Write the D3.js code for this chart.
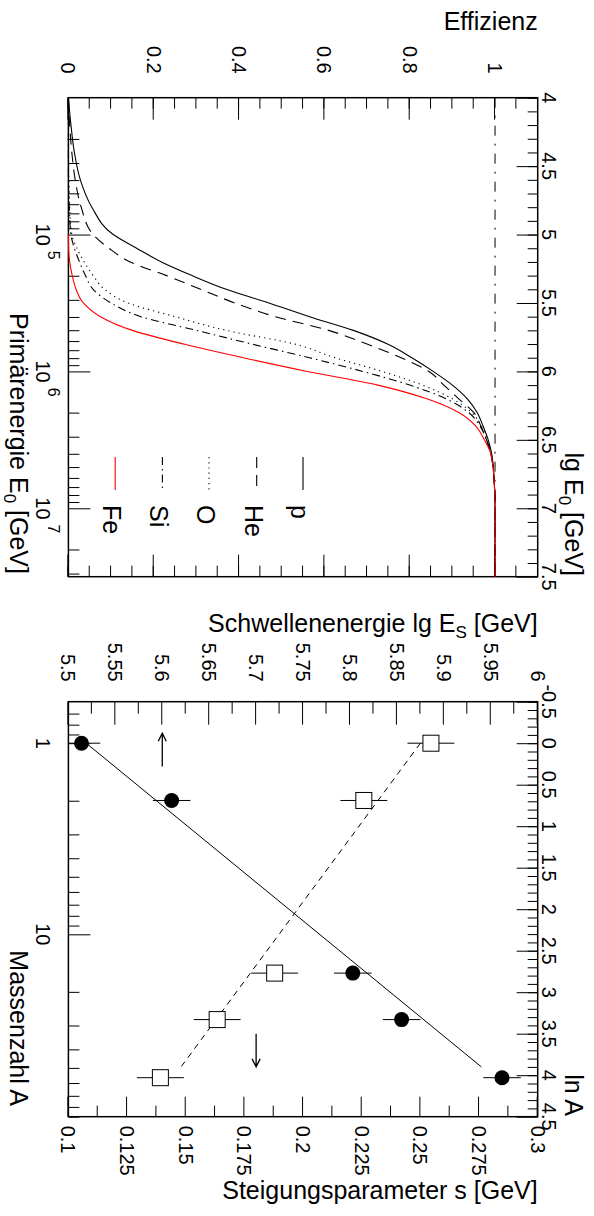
<!DOCTYPE html>
<meta charset="utf-8">
<title>Effizienz / Schwellenenergie</title>
<script src="https://d3js.org/d3.v7.min.js"></script>
<style>
  body { margin: 0; background: #fff; }
  svg text { font-family: "Liberation Sans", Arial, Helvetica, sans-serif; fill: #000; }
</style>
<body>
<div id="chart"></div>
<script>
// ---- data, upper panel: efficiency vs. primary energy ----
var lgE   = [4.0, 4.2, 4.4, 4.6, 4.8, 5.0, 5.1, 5.2, 5.3, 5.4, 5.5, 5.6, 5.7, 5.8, 5.9, 6.0, 6.1, 6.2, 6.3, 6.4, 6.5, 6.6, 6.8, 7.0, 7.5];
var effP  = [0, 0.006, 0.014, 0.028, 0.055, 0.105, 0.16, 0.218, 0.29, 0.37, 0.47, 0.565, 0.668, 0.748, 0.805, 0.855, 0.9, 0.935, 0.958, 0.972, 0.984, 0.992, 0.998, 1, 1];
var effHe = [0, 0.003, 0.008, 0.016, 0.03, 0.058, 0.095, 0.145, 0.23, 0.31, 0.39, 0.485, 0.61, 0.70, 0.78, 0.845, 0.88, 0.915, 0.95, 0.967, 0.98, 0.99, 0.998, 1, 1];
var effO  = [0, 0, 0, 0.001, 0.003, 0.008, 0.02, 0.037, 0.058, 0.085, 0.14, 0.25, 0.37, 0.53, 0.625, 0.735, 0.83, 0.9, 0.945, 0.968, 0.982, 0.991, 0.998, 1, 1];
var effSi = [0, 0, 0, 0, 0.002, 0.006, 0.014, 0.026, 0.04, 0.058, 0.1, 0.17, 0.30, 0.43, 0.565, 0.69, 0.80, 0.885, 0.938, 0.965, 0.98, 0.99, 0.998, 1, 1];
var effFe = [null, null, null, null, null, 0, 0.0005, 0.003, 0.009, 0.018, 0.035, 0.075, 0.15, 0.27, 0.41, 0.56, 0.725, 0.84, 0.915, 0.955, 0.975, 0.99, 0.998, 1, 1];
var elements = ["p", "He", "O", "Si", "Fe"];

// ---- data, lower panel: threshold energy and slope vs. ln A ----
var lnA      = [0, 0.69, 2.77, 3.33, 4.03];
var lgEs     = [5.514, 5.61, 5.803, 5.855, 5.962];
var lgEsErr  = [0.02, 0.02, 0.02, 0.02, 0.02];
var slopeS   = [0.2545, 0.2259, 0.1879, 0.1634, 0.1392];
var slopeErr = [0.01, 0.01, 0.01, 0.01, 0.01];
var fitLnA   = [0, 3.9];
var fitEs    = [5.519, 5.94];
var fitS     = [0.25, 0.148];
var arrowEs  = {value: 5.6, lnA: [0.28, -0.12]};
var arrowS   = {value: 0.18, lnA: [3.5, 3.9]};

// ---- tick labels ----
var effLabels = [0, 0.2, 0.4, 0.6, 0.8, 1];
var lgELabels = [4, 4.5, 5, 5.5, 6, 6.5, 7, 7.5];
var e0Labels  = [5, 6, 7];
var lnALabels = [-0.5, 0, 0.5, 1, 1.5, 2, 2.5, 3, 3.5, 4, 4.5];
var aLabels   = [1, 10];
var esLabels  = [5.5, 5.55, 5.6, 5.65, 5.7, 5.75, 5.8, 5.85, 5.9, 5.95, 6];
var sLabels   = [0.1, 0.125, 0.15, 0.175, 0.2, 0.225, 0.25, 0.275, 0.3];

var W = 594, H = 1216;
var fsLab = 20, fsTit = 25;

var svg = d3.select("#chart").append("svg")
    .attr("width", W).attr("height", H);

// the figure is laid out in landscape and turned by 90 degrees
var g = svg.append("g")
    .attr("transform", "translate(" + W + ",0) rotate(90)");

var plotTop = 56.3, plotBottom = 525.6;
var p1 = [97.7, 576.7], p2 = [701.7, 1116.7];

var x1 = d3.scaleLinear().domain([4, 7.5]).range(p1);
var xE = d3.scaleLog().domain([1e4, Math.pow(10, 7.5)]).range(p1);
var y1 = d3.scaleLinear().domain([0, 1.1]).range([plotBottom, plotTop]);

var x2 = d3.scaleLinear().domain([-0.5, 4.5]).range(p2);
var xA = d3.scaleLog().domain([Math.exp(-0.5), Math.exp(4.5)]).range(p2);
var yE = d3.scaleLinear().domain([5.5, 6]).range([plotBottom, plotTop]);
var yS = d3.scaleLinear().domain([0.1, 0.3]).range([plotBottom, plotTop]);

function fmt(v) { return String(Math.round(v * 10000) / 10000); }

function ticks(axis, pos, scale, values, len) {
  var a = axis(scale).tickValues(values).tickSize(-len).tickFormat("");
  var tg = g.append("g");
  if (axis === d3.axisBottom || axis === d3.axisTop) tg.attr("transform", "translate(0," + pos + ")");
  else tg.attr("transform", "translate(" + pos + ",0)");
  tg.call(a);
  tg.select(".domain").remove();
  tg.selectAll("line").attr("stroke", "#000").attr("stroke-width", 1);
}

function logMinor(lo, hi) {
  var out = [];
  for (var k = -1; k <= 8; k++)
    for (var m = 2; m <= 9; m++) {
      var v = m * Math.pow(10, k);
      if (v > lo && v < hi) out.push(v);
    }
  return out;
}

// ================= upper panel =================
ticks(d3.axisTop, plotTop, x1, d3.range(4, 7.51, 0.5), 21);
ticks(d3.axisTop, plotTop, x1, d3.range(4, 7.5, 0.1), 10);
ticks(d3.axisBottom, plotBottom, xE, [1e5, 1e6, 1e7], 22);
ticks(d3.axisBottom, plotBottom, xE, logMinor(1e4, Math.pow(10, 7.5)), 11);
ticks(d3.axisLeft, p1[0], y1, effLabels, 22);
ticks(d3.axisLeft, p1[0], y1, d3.range(0, 1.07, 0.05), 11);
ticks(d3.axisRight, p1[1], y1, effLabels, 22);
ticks(d3.axisRight, p1[1], y1, d3.range(0, 1.07, 0.05), 11);

g.append("rect")
    .attr("x", p1[0]).attr("y", plotTop)
    .attr("width", p1[1] - p1[0]).attr("height", plotBottom - plotTop)
    .attr("fill", "none").attr("stroke", "#000").attr("stroke-width", 1.5);

// efficiency = 1 reference
g.append("line")
    .attr("x1", x1(4)).attr("x2", x1(7.5))
    .attr("y1", y1(1)).attr("y2", y1(1))
    .attr("stroke", "#000").attr("stroke-width", 1)
    .attr("stroke-dasharray", "10,8,2,8");

var styles = {
  p:  {color: "#000", dash: null},
  He: {color: "#000", dash: "11,7"},
  O:  {color: "#000", dash: "1.2,4"},
  Si: {color: "#000", dash: "8,4,1.5,4"},
  Fe: {color: "#ff0000", dash: null}
};
var effSeries = {p: effP, He: effHe, O: effO, Si: effSi, Fe: effFe};

var line1 = d3.line()
    .defined(function(d) { return d[1] != null; })
    .x(function(d) { return x1(d[0]); })
    .y(function(d) { return y1(d[1]); })
    .curve(d3.curveMonotoneX);

elements.forEach(function(el) {
  var pts = lgE.map(function(e, i) { return [e, effSeries[el][i]]; });
  g.append("path")
      .attr("d", line1(pts))
      .attr("fill", "none")
      .attr("stroke", styles[el].color)
      .attr("stroke-width", 1.1)
      .attr("stroke-dasharray", styles[el].dash);
});

// legend
var legY = [291, 337.3, 385, 431.6, 478.8];
elements.forEach(function(el, i) {
  g.append("line")
      .attr("x1", 457).attr("x2", 490)
      .attr("y1", legY[i]).attr("y2", legY[i])
      .attr("stroke", styles[el].color).attr("stroke-width", 1.1)
      .attr("stroke-dasharray", styles[el].dash);
  g.append("text")
      .attr("x", 505).attr("y", legY[i] + 12)
      .attr("font-size", fsTit)
      .text(el);
});

// labels
g.selectAll(null).data(lgELabels).join("text")
    .attr("x", function(d) { return x1(d); }).attr("y", 52)
    .attr("text-anchor", "middle").attr("font-size", fsLab)
    .text(fmt);

g.selectAll(null).data(effLabels).join("text")
    .attr("x", p1[0] - 24).attr("y", function(d) { return y1(d) + 7; })
    .attr("text-anchor", "end").attr("font-size", fsLab)
    .text(fmt);

var e0 = g.selectAll(null).data(e0Labels).join("text")
    .attr("x", function(d) { return xE(Math.pow(10, d)) - 11; })
    .attr("y", 558).attr("font-size", fsLab);
e0.append("tspan").text("10");
e0.append("tspan").attr("dx", 5).attr("dy", -12).attr("font-size", 16)
    .text(function(d) { return d; });

var t = g.append("text").attr("x", 576).attr("y", 29)
    .attr("text-anchor", "end").attr("font-size", fsTit);
t.append("tspan").text("lg E");
t.append("tspan").attr("dy", 6).attr("font-size", 17).text("0");
t.append("tspan").attr("dy", -6).text(" [GeV]");

t = g.append("text").attr("x", 574).attr("y", 584)
    .attr("text-anchor", "end").attr("font-size", fsTit);
t.append("tspan").text("Primärenergie E");
t.append("tspan").attr("dy", 6).attr("font-size", 17).text("0");
t.append("tspan").attr("dy", -6).text(" [GeV]");

g.append("text")
    .attr("transform", "translate(30," + plotTop + ") rotate(-90)")
    .attr("text-anchor", "end").attr("font-size", fsTit)
    .text("Effizienz");

// ================= lower panel =================
ticks(d3.axisTop, plotTop, x2, d3.range(-0.5, 4.51, 0.5), 21);
ticks(d3.axisTop, plotTop, x2, d3.range(-0.5, 4.5, 0.1), 10);
ticks(d3.axisBottom, plotBottom, xA, aLabels, 22);
ticks(d3.axisBottom, plotBottom, xA, logMinor(Math.exp(-0.5), Math.exp(4.5)), 11);
ticks(d3.axisLeft, p2[0], yE, esLabels, 23);
ticks(d3.axisLeft, p2[0], yE, d3.range(5.525, 6, 0.05), 12);
ticks(d3.axisRight, p2[1], yS, sLabels, 20);
ticks(d3.axisRight, p2[1], yS, d3.range(0.1125, 0.3, 0.025), 11);

g.append("rect")
    .attr("x", p2[0]).attr("y", plotTop)
    .attr("width", p2[1] - p2[0]).attr("height", plotBottom - plotTop)
    .attr("fill", "none").attr("stroke", "#000").attr("stroke-width", 1.5);

g.append("clipPath").attr("id", "clip2").append("rect")
    .attr("x", p2[0]).attr("y", plotTop)
    .attr("width", p2[1] - p2[0]).attr("height", plotBottom - plotTop);
var c2 = g.append("g").attr("clip-path", "url(#clip2)");

// fit lines
c2.append("line")
    .attr("x1", x2(fitLnA[0])).attr("x2", x2(fitLnA[1]))
    .attr("y1", yE(fitEs[0])).attr("y2", yE(fitEs[1]))
    .attr("stroke", "#000").attr("stroke-width", 1);
c2.append("line")
    .attr("x1", x2(fitLnA[0])).attr("x2", x2(fitLnA[1]))
    .attr("y1", yS(fitS[0])).attr("y2", yS(fitS[1]))
    .attr("stroke", "#000").attr("stroke-width", 1)
    .attr("stroke-dasharray", "6,5");

// error bars
lnA.forEach(function(a, i) {
  c2.append("line")
      .attr("x1", x2(a)).attr("x2", x2(a))
      .attr("y1", yE(lgEs[i] - lgEsErr[i])).attr("y2", yE(lgEs[i] + lgEsErr[i]))
      .attr("stroke", "#000").attr("stroke-width", 1);
  c2.append("line")
      .attr("x1", x2(a)).attr("x2", x2(a))
      .attr("y1", yS(slopeS[i] - slopeErr[i])).attr("y2", yS(slopeS[i] + slopeErr[i]))
      .attr("stroke", "#000").attr("stroke-width", 1);
});

// markers
c2.selectAll(null).data(lnA).join("circle")
    .attr("cx", function(d) { return x2(d); })
    .attr("cy", function(d, i) { return yE(lgEs[i]); })
    .attr("r", 7.5).attr("fill", "#000");
c2.selectAll(null).data(lnA).join("rect")
    .attr("x", function(d) { return x2(d) - 8; })
    .attr("y", function(d, i) { return yS(slopeS[i]) - 8; })
    .attr("width", 16).attr("height", 16)
    .attr("fill", "#fff").attr("stroke", "#000").attr("stroke-width", 1);

// arrows pointing to the axis each series belongs to
function arrow(xs, yv) {
  var tx = xs[0], hx = xs[1], s = hx > tx ? -1 : 1;
  g.append("path")
      .attr("d", "M" + tx + "," + yv + "L" + hx + "," + yv +
                 "M" + (hx + s * 8) + "," + (yv - 4) + "L" + hx + "," + yv +
                 "L" + (hx + s * 8) + "," + (yv + 4))
      .attr("fill", "none").attr("stroke", "#000").attr("stroke-width", 1.3);
}
arrow([x2(arrowEs.lnA[0]), x2(arrowEs.lnA[1])], yE(arrowEs.value));
arrow([x2(arrowS.lnA[0]), x2(arrowS.lnA[1])], yS(arrowS.value));

// labels
g.selectAll(null).data(lnALabels).join("text")
    .attr("x", function(d) { return x2(d); }).attr("y", 52)
    .attr("text-anchor", "middle").attr("font-size", fsLab)
    .text(fmt);

g.selectAll(null).data(aLabels).join("text")
    .attr("x", function(d) { return xA(d); }).attr("y", 558)
    .attr("text-anchor", "middle").attr("font-size", fsLab)
    .text(fmt);

g.selectAll(null).data(esLabels).join("text")
    .attr("x", p2[0] - 20).attr("y", function(d) { return yE(d) + 7; })
    .attr("text-anchor", "end").attr("font-size", fsLab)
    .text(fmt);

g.selectAll(null).data(sLabels).join("text")
    .attr("x", p2[1] + 9).attr("y", function(d) { return yS(d) + 7; })
    .attr("text-anchor", "start").attr("font-size", fsLab)
    .text(fmt);

g.append("text").attr("x", 1116).attr("y", 29)
    .attr("text-anchor", "end").attr("font-size", fsTit)
    .text("ln A");

g.append("text").attr("x", 1106).attr("y", 584)
    .attr("text-anchor", "end").attr("font-size", fsTit)
    .text("Massenzahl A");

t = g.append("text")
    .attr("transform", "translate(632," + plotTop + ") rotate(-90)")
    .attr("text-anchor", "end").attr("font-size", fsTit);
t.append("tspan").text("Schwellenenergie lg E");
t.append("tspan").attr("dy", 6).attr("font-size", 17).text("S");
t.append("tspan").attr("dy", -6).text(" [GeV]");

g.append("text")
    .attr("transform", "translate(1199," + plotTop + ") rotate(-90)")
    .attr("text-anchor", "end").attr("font-size", fsTit)
    .text("Steigungsparameter s [GeV]");
</script>
</body>
